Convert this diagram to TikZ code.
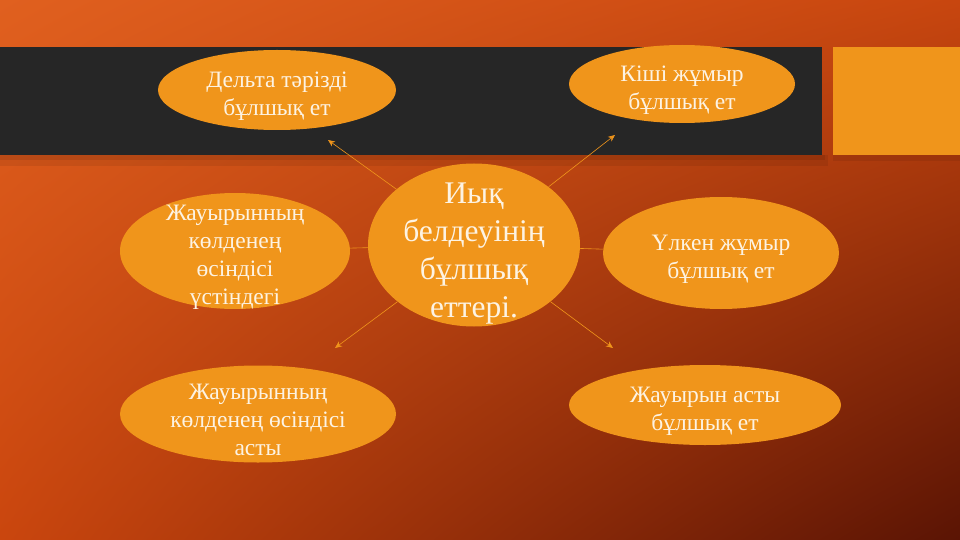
\documentclass[tikz,border=0pt]{standalone}
\usepackage{fontspec}
\setmainfont{Liberation Serif}
\usetikzlibrary{shapes.geometric,shadings,arrows.meta}

\definecolor{bubbleorange}{HTML}{F0951B}
\definecolor{bandgray}{HTML}{262626}
\definecolor{creamtext}{HTML}{FDF3E3}
\definecolor{bgtl}{HTML}{E0601F}
\definecolor{bgtr}{HTML}{C8460F}
\definecolor{bgbl}{HTML}{CA460E}
\definecolor{bgbr}{HTML}{5A1404}

% taller first line, pushes the text a little lower in its bubble
\newcommand{\topline}{\rule{0pt}{1.2em}}

\begin{document}
\begin{tikzpicture}[x=1pt,y=-1pt,
  bubble/.style={ellipse,fill=bubbleorange,text=creamtext,align=center,inner xsep=0pt,inner ysep=-30pt,
    font=\fontsize{23.5}{28}\selectfont},
  link/.style={line width=0.6pt,draw=bubbleorange,>={Stealth[length=7pt,width=6pt]},->}]

% background
  \shade[upper left=bgtl,upper right=bgtr,lower left=bgbl,lower right=bgbr] (0,0) rectangle (960,540);
  \useasboundingbox (0,0) rectangle (960,540);

% title band and side block (soft shadow first)
  \fill[black,opacity=0.07] (0,155) rectangle (828,166);
  \fill[black,opacity=0.08] (0,155) rectangle (825,160);
  \fill[bandgray] (0,47) rectangle (822,155);
  \fill[black,opacity=0.07] (833,155) rectangle (960,161);
  \fill[bubbleorange] (833,47) rectangle (960,155);

% centre bubble
  \node[bubble,minimum width=212pt,minimum height=163pt,font=\fontsize{31.5}{38.3}\selectfont] (c) at (474,245) {\topline Иық\\белдеуінің\\бұлшық\\еттері.};

% outer bubbles
  \node[bubble,minimum width=238pt,minimum height=80pt] (deltoid) at (277,90) {\topline Дельта тәрізді\\бұлшық ет};
  \node[bubble,minimum width=226pt,minimum height=78pt] (teresminor) at (682,84) {\topline Кіші жұмыр\\бұлшық ет};
  \node[bubble,minimum width=230pt,minimum height=116pt] (supra) at (235,251) {\topline Жауырынның\\көлденең\\өсіндісі\\үстіндегі};
  \node[bubble,minimum width=236pt,minimum height=112pt] (teresmajor) at (721,253) {\topline Үлкен жұмыр\\бұлшық ет};
  \node[bubble,minimum width=276pt,minimum height=97pt] (infra) at (258,414) {\topline Жауырынның\\көлденең өсіндісі\\асты};
  \node[bubble,minimum width=272pt,minimum height=80pt] (subscap) at (705,405) {\topline Жауырын асты\\бұлшық ет};

% arrow ends
  \coordinate (tdeltoid) at (328,140);
  \coordinate (tminor) at (615,135);
  \coordinate (tinfra) at (335,348);
  \coordinate (tsubscap) at (613,348);

% connectors
  \draw[link] (c) -- (tdeltoid);
  \draw[link] (c) -- (tminor);
  \draw[link] (c) -- (tinfra);
  \draw[link] (c) -- (tsubscap);
  \draw[line width=0.6pt,draw=bubbleorange] (c) -- (supra);
  \draw[line width=0.6pt,draw=bubbleorange] (c) -- (teresmajor);

\end{tikzpicture}
\end{document}
